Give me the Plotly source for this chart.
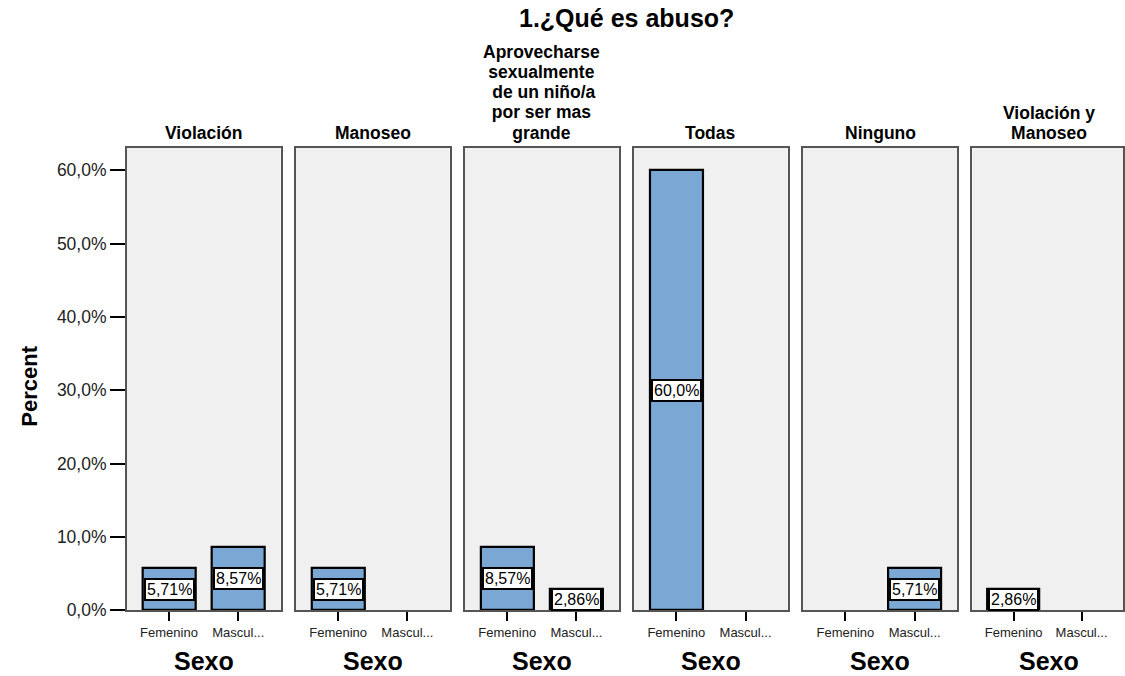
import plotly.graph_objects as go

# ---- data ----
panels = [["Violación"], ["Manoseo"],
          ["Aprovecharse", "sexualmente", " de un niño/a", "por ser mas", "grande"],
          ["Todas"], ["Ninguno"], ["Violación y", "Manoseo"]]
categories = ["Femenino", "Masculino"]
cat_ticktext = ["Femenino", "Mascul..."]
femenino = [5.71, 5.71, 8.57, 60.0, 0.0, 2.86]
masculino = [8.57, 0.0, 2.86, 0.0, 5.71, 0.0]
y_ticks = [0, 10, 20, 30, 40, 50, 60]
title = "1.¿Qué es abuso?"
x_title = "Sexo"
y_title = "Percent"

W, H = 1125, 676
VS = 1.0142  # vertical correction
FONT = "Arial, Liberation Sans, sans-serif"
BAR_COLOR = "rgb(122,167,212)"

def fmt(v):
    return ("%#.3g" % v).replace(".", ",") + "%"

def fmt_tick(v):
    return ("%.1f" % v).replace(".", ",") + "%"

def py(px):
    return (H - px * VS) / H

fig = go.Figure()

panel_left0 = 127.0
pitch = 169.4
pwidth = 154.0
y_bottom_px = 610.7
y_top_px = 148.0

annotations = []
for i, lines in enumerate(panels):
    ax = "" if i == 0 else str(i + 1)
    left = panel_left0 + pitch * i
    right = min(left + pwidth, W)
    vals = [femenino[i], masculino[i]]
    xs = [c for c, v in zip(categories, vals) if v > 0]
    ys = [v for v in vals if v > 0]
    fig.add_trace(go.Bar(
        x=xs, y=ys, width=0.764,
        marker=dict(color=BAR_COLOR, line=dict(color="black", width=2.2)),
        xaxis="x" + ax, yaxis="y" + ax, showlegend=False, hoverinfo="skip"))
    for c, v in zip(xs, ys):
        annotations.append(dict(
            x=c, y=v / 2, xref="x" + ax, yref="y" + ax, text=fmt(v),
            showarrow=False, font=dict(family=FONT, size=16, color="black"),
            bgcolor="white", bordercolor="black", borderwidth=2, borderpad=1))
    xd = [left / W, right / W]
    fig.layout["xaxis" + ax] = dict(
        domain=xd, anchor="y" + ax, type="category",
        categoryorder="array", categoryarray=categories,
        range=[-0.61, 1.61], tickvals=categories, ticktext=cat_ticktext,
        showline=True, mirror=True, linecolor="#555", linewidth=1.5,
        ticks="outside", ticklen=9, tickwidth=2, tickcolor="black",
        tickfont=dict(family=FONT, size=13, color="#222"),
        showgrid=False, zeroline=False, fixedrange=True)
    fig.layout["yaxis" + ax] = dict(
        domain=[py(y_bottom_px), py(y_top_px)],
        anchor="x" + ax, range=[0, 63.04],
        tickvals=y_ticks, ticktext=[fmt_tick(t) for t in y_ticks],
        showticklabels=(i == 0), ticks="outside" if i == 0 else "",
        ticklen=15, tickwidth=2, tickcolor="black",
        tickfont=dict(family=FONT, size=17.5, color="#222"),
        showline=True, mirror=True, linecolor="#555", linewidth=1.5,
        showgrid=False, zeroline=False, fixedrange=True)
    cx = (left + pwidth / 2) / W
    txt = "<br>".join("<span style='font-size:17.5px'><b>%s</b></span>" % ln for ln in lines)
    annotations.append(dict(
        x=cx, y=py(145), xref="paper", yref="paper", text=txt,
        showarrow=False, xanchor="center", yanchor="bottom",
        font=dict(family=FONT, size=15.5, color="black")))
    annotations.append(dict(
        x=cx, y=py(662), xref="paper", yref="paper", text="<b>%s</b>" % x_title,
        showarrow=False, xanchor="center", yanchor="middle",
        font=dict(family=FONT, size=25, color="black")))

annotations.append(dict(
    x=628 / W, y=py(18), xref="paper", yref="paper", text="<b>%s</b>" % title,
    showarrow=False, xanchor="center", yanchor="middle",
    font=dict(family=FONT, size=25, color="black")))
annotations.append(dict(
    x=30 / W, y=py(386), xref="paper", yref="paper", text="<b>%s</b>" % y_title,
    showarrow=False, xanchor="center", yanchor="middle", textangle=-90,
    font=dict(family="Liberation Sans Narrow, Arial Narrow, Arial, sans-serif", size=22, color="black")))

fig.update_layout(
    width=W, height=H, margin=dict(l=0, r=0, t=0, b=0),
    paper_bgcolor="white", plot_bgcolor="#f0f0f0",
    separators=",.", annotations=annotations, bargap=0,
    font=dict(family=FONT))

fig.write_html(
    "out.html",
    config={"displayModeBar": False},
    post_script=("document.documentElement.style.margin='0';"
                 "document.documentElement.style.overflow='hidden';"
                 "document.body.style.margin='0';"
                 "document.body.style.padding='0';"
                 "document.body.style.overflow='hidden';"))
